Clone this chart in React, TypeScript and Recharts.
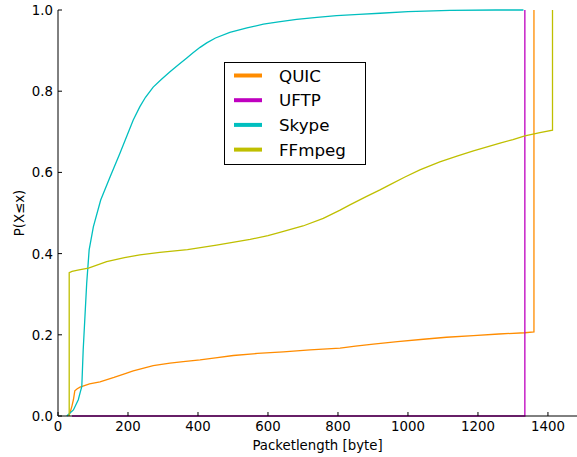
import React from "react";
import { LineChart, Line, XAxis, YAxis } from "recharts";

// CDF samples per protocol: packet length [byte] -> P(X<=x)
const quicX = [30, 34, 40, 44, 48, 55, 63, 90, 120, 160, 190, 215, 245, 272, 320, 358, 406, 450, 501, 570, 644, 720, 806, 850, 901, 970, 1044, 1110, 1187, 1260, 1334, 1360, 1360];
const quicY = [0, 0.007, 0.025, 0.04, 0.062, 0.067, 0.071, 0.079, 0.084, 0.095, 0.104, 0.111, 0.118, 0.124, 0.13, 0.134, 0.138, 0.143, 0.149, 0.154, 0.158, 0.163, 0.167, 0.172, 0.177, 0.183, 0.189, 0.194, 0.198, 0.202, 0.205, 0.207, 1.0];

const uftpX = [40, 1334, 1334];
const uftpY = [0, 0, 1.0];

const skypeX = [25, 44, 58, 64, 68, 72, 77, 82, 89, 101, 122, 149, 177, 215, 234, 250, 272, 295, 320, 345, 368, 385, 406, 425, 450, 491, 540, 587, 630, 682, 740, 796, 860, 920, 1000, 1120, 1250, 1330];
const skypeY = [0, 0.015, 0.04, 0.06, 0.072, 0.163, 0.245, 0.327, 0.409, 0.466, 0.532, 0.589, 0.647, 0.729, 0.762, 0.785, 0.81, 0.829, 0.848, 0.866, 0.882, 0.894, 0.908, 0.919, 0.931, 0.945, 0.956, 0.965, 0.971, 0.977, 0.982, 0.986, 0.989, 0.992, 0.996, 0.999, 1.0, 1.0];

const ffmpegX = [32, 32, 40, 60, 87, 139, 190, 234, 291, 370, 453, 549, 600, 634, 700, 758, 806, 834, 882, 920, 949, 990, 1034, 1091, 1140, 1187, 1263, 1300, 1334, 1377, 1413, 1413];
const ffmpegY = [0, 0.353, 0.356, 0.36, 0.364, 0.38, 0.39, 0.397, 0.403, 0.41, 0.421, 0.435, 0.444, 0.452, 0.468, 0.487, 0.507, 0.52, 0.541, 0.557, 0.57, 0.588, 0.606, 0.626, 0.64, 0.653, 0.672, 0.681, 0.69, 0.698, 0.704, 1.0];

const xTicks = [0, 200, 400, 600, 800, 1000, 1200, 1400];
const yTicks = [0, 0.2, 0.4, 0.6, 0.8, 1.0];

const toPoints = (xs: number[], ys: number[]) => xs.map((x, i) => ({ x, y: ys[i] }));

const series = [
  { name: "QUIC", color: "#FF8C00", data: toPoints(quicX, quicY) },
  { name: "UFTP", color: "#BF00BF", data: toPoints(uftpX, uftpY) },
  { name: "Skype", color: "#00BFBF", data: toPoints(skypeX, skypeY) },
  { name: "FFmpeg", color: "#BFBF00", data: toPoints(ffmpegX, ffmpegY) },
];

const FONT = "DejaVu Sans, sans-serif";
const TICK_LEN = 4;

const BottomTick = ({ x, y, payload }: any) => (
  <g>
    <line x1={x} y1={y} x2={x} y2={y - TICK_LEN} stroke="#000" />
    <text x={x} y={y + 15} textAnchor="middle" fontSize={13.3} fontFamily={FONT} fill="#000">
      {payload.value}
    </text>
  </g>
);

const TopTick = ({ x, y }: any) => (
  <line x1={x} y1={y} x2={x} y2={y + TICK_LEN} stroke="#000" />
);

const LeftTick = ({ x, y, payload }: any) => (
  <g>
    <line x1={x} y1={y} x2={x + TICK_LEN} y2={y} stroke="#000" />
    <text x={x - 5} y={y + 5} textAnchor="end" fontSize={13.3} fontFamily={FONT} fill="#000">
      {Number(payload.value).toFixed(1)}
    </text>
  </g>
);

function LegendBox() {
  return (
    <svg
      width={142}
      height={103}
      style={{ position: "absolute", left: 224, top: 62 }}
    >
      <rect x={0.5} y={0.5} width={141} height={102} fill="#fff" stroke="#000" />
      {series.map((s, i) => {
        const cy = 13.5 + i * 24.7;
        return (
          <g key={s.name}>
            <line x1={10} x2={38} y1={cy} y2={cy} stroke={s.color} strokeWidth={4} />
            <text x={55} y={cy + 6} fontSize={16.7} fontFamily={FONT} fill="#000">
              {s.name}
            </text>
          </g>
        );
      })}
    </svg>
  );
}

export default function App() {
  return (
    <div style={{ position: "absolute", left: 0, top: 0, width: 577, height: 457, background: "#fff" }}>
      <LineChart width={577} height={457} margin={{ top: 10, right: 0, bottom: 0, left: 0 }}>
        <XAxis
          type="number"
          dataKey="x"
          domain={[0, 1483]}
          ticks={xTicks}
          height={41}
          tickLine={false}
          tickSize={0}
          tickMargin={0}
          tick={<BottomTick />}
          axisLine={{ stroke: "#000" }}
          allowDuplicatedCategory={false}
          label={{ value: "Packetlength [byte]", position: "insideBottom", offset: 7, fontSize: 13.3, fontFamily: FONT, fill: "#000" }}
        />
        <XAxis
          xAxisId="top"
          orientation="top"
          type="number"
          dataKey="x"
          domain={[0, 1483]}
          ticks={xTicks}
          height={0}
          tickLine={false}
          tickSize={0}
          tickMargin={0}
          tick={<TopTick />}
          axisLine={{ stroke: "#000" }}
        />
        <YAxis
          type="number"
          dataKey="y"
          domain={[0, 1]}
          ticks={yTicks}
          width={58}
          tickLine={false}
          tickSize={0}
          tickMargin={0}
          tick={<LeftTick />}
          axisLine={{ stroke: "#000" }}
          label={{ value: "P(X≤x)", angle: -90, position: "insideLeft", offset: 19, fontSize: 13.3, fontFamily: FONT, fill: "#000", style: { textAnchor: "middle" } }}
        />
        {series.map((s) => (
          <Line
            key={s.name}
            data={s.data}
            dataKey="y"
            name={s.name}
            type="linear"
            stroke={s.color}
            strokeWidth={1.3}
            dot={false}
            activeDot={false}
            isAnimationActive={false}
          />
        ))}
      </LineChart>
      <LegendBox />
    </div>
  );
}
